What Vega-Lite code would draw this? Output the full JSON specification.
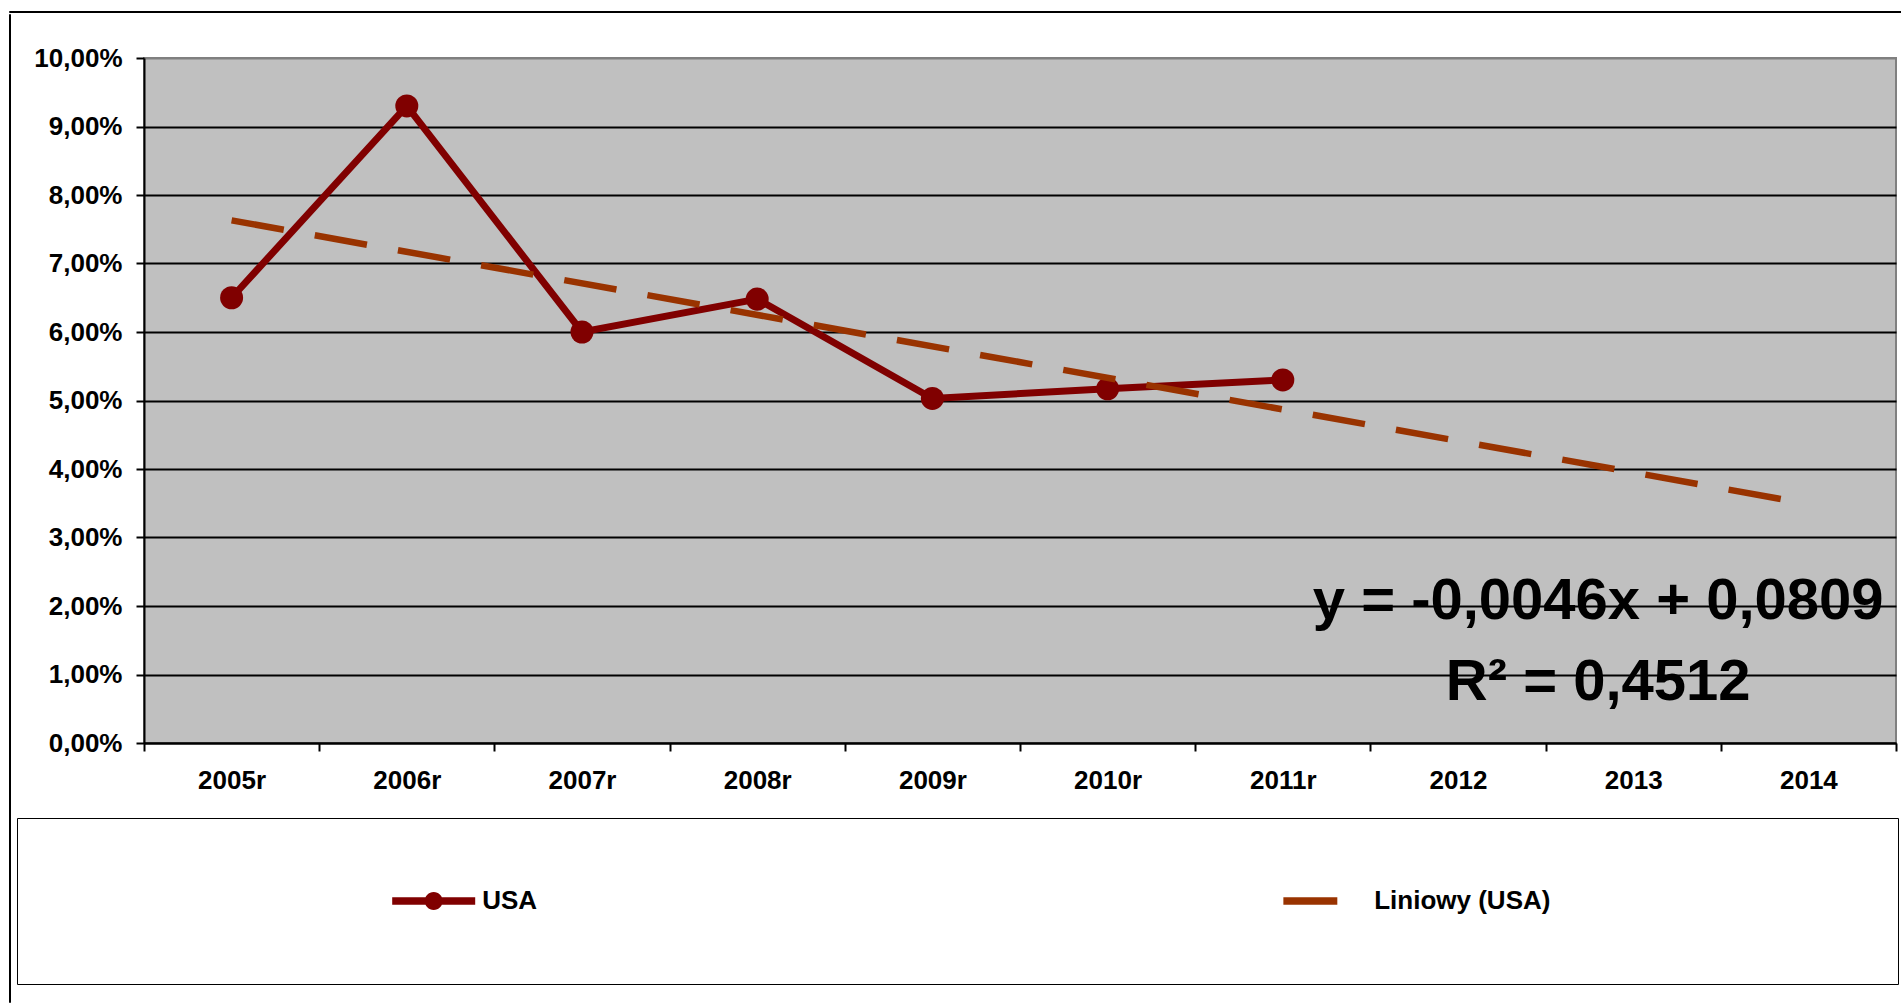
{
  "$schema": "https://vega.github.io/schema/vega-lite/v6.json",
  "background": "white",
  "padding": {"left": 8, "top": 10, "right": 0, "bottom": 0},
  "config": {
    "locale": {"number": {"decimal": ",", "thousands": " ", "grouping": [3], "currency": ["", ""]}},
    "font": "Liberation Sans",
    "axis": {
      "domainColor": "black", "domainWidth": 2,
      "tickColor": "black", "tickWidth": 2, "tickSize": 8,
      "labelFont": "Liberation Sans", "labelFontWeight": "bold", "labelFontSize": 26, "labelColor": "black"
    },
    "legend": {"labelFont": "Liberation Sans"}
  },
  "spacing": 0,
  "resolve": {"scale": {"color": "independent", "shape": "independent"}, "legend": {"color": "independent", "shape": "independent"}},
  "vconcat": [
    {
      "width": 1892, "height": 1,
      "view": {"stroke": "black", "strokeWidth": 1, "fill": null},
      "data": {"values": []},
      "mark": "point",
      "encoding": {}
    },
    {
      "spacing": 5,
      "resolve": {"scale": {"color": "independent", "shape": "independent"}, "legend": {"color": "independent", "shape": "independent"}},
      "hconcat": [
        {
          "width": 1, "height": 988,
          "view": {"stroke": "black", "strokeWidth": 1, "fill": null},
          "data": {"values": []},
          "mark": "point",
          "encoding": {}
        },
        {
          "spacing": 22,
          "resolve": {"scale": {"color": "independent", "shape": "independent"}, "legend": {"color": "independent", "shape": "independent"}},
          "vconcat": [
            {
              "width": 1, "height": 1,
              "view": {"stroke": null, "fill": null},
              "data": {"values": []},
              "mark": "point",
              "encoding": {}
            },
            {
              "width": 1752, "height": 685,
              "view": {"fill": "#C0C0C0", "stroke": "#808080", "strokeWidth": 2},
              "data": {"values": [
                {"year": "2005r", "series": "USA", "value": 0.065},
                {"year": "2006r", "series": "USA", "value": 0.093},
                {"year": "2007r", "series": "USA", "value": 0.060},
                {"year": "2008r", "series": "USA", "value": 0.0648},
                {"year": "2009r", "series": "USA", "value": 0.0503},
                {"year": "2010r", "series": "USA", "value": 0.0517},
                {"year": "2011r", "series": "USA", "value": 0.0530},
                {"year": "2005r", "series": "Liniowy (USA)", "value": 0.0763},
                {"year": "2014", "series": "Liniowy (USA)", "value": 0.0349}
              ]},
              "encoding": {
                "x": {
                  "field": "year", "type": "ordinal", "bandPosition": 0.5,
                  "scale": {"type": "band", "paddingInner": 0, "paddingOuter": 0,
                    "domain": ["2005r", "2006r", "2007r", "2008r", "2009r", "2010r", "2011r", "2012", "2013", "2014"]},
                  "axis": {"title": null, "labelAngle": 0, "tickBand": "extent", "labelPadding": 16.5, "grid": false}
                },
                "y": {
                  "field": "value", "type": "quantitative",
                  "scale": {"domain": [0, 0.1], "nice": false, "zero": true},
                  "axis": {
                    "title": ".", "titleColor": "transparent", "titleFontSize": 10, "titleAngle": 0,
                    "titleAlign": "left", "titleBaseline": "top", "titleX": -127, "titleY": -19.5,
                    "values": [0, 0.01, 0.02, 0.03, 0.04, 0.05, 0.06, 0.07, 0.08, 0.09, 0.1],
                    "format": ".2%", "labelPadding": 14,
                    "grid": true, "gridWidth": 2,
                    "gridColor": {"condition": {"test": "datum.value >= 0.099", "value": "#808080"}, "value": "black"}
                  }
                }
              },
              "layer": [
                {
                  "transform": [{"filter": "datum.series === 'USA'"}],
                  "mark": {"type": "line", "color": "#800000", "strokeWidth": 7}
                },
                {
                  "transform": [{"filter": "datum.series === 'USA'"}],
                  "mark": {"type": "point", "filled": true, "color": "#800000", "size": 530, "opacity": 1}
                },
                {
                  "transform": [{"filter": "datum.series === 'Liniowy (USA)'"}],
                  "mark": {"type": "line", "color": "#993300", "strokeWidth": 6.5, "strokeDash": [53, 31.5]}
                },
                {
                  "data": {"values": [
                    {"year": "2013", "value": 0.0181, "label": "y = -0,0046x + 0,0809"},
                    {"year": "2013", "value": 0.0063, "label": "R² = 0,4512"}
                  ]},
                  "mark": {"type": "text", "font": "Liberation Sans", "fontWeight": "bold", "fontSize": 58,
                    "color": "black", "align": "center", "baseline": "alphabetic", "dx": -35},
                  "encoding": {"text": {"field": "label"}}
                }
              ]
            },
            {
              "width": 1, "height": 1,
              "view": {"stroke": null, "fill": null},
              "data": {"values": []},
              "mark": {"type": "point", "filled": true, "opacity": 1},
              "encoding": {
                "color": {
                  "field": "series", "type": "nominal",
                  "scale": {"domain": ["USA", "Liniowy (USA)"], "range": ["#800000", "#993300"]},
                  "legend": {
                    "title": ".", "titleOrient": "left", "titleColor": "transparent", "titleFontSize": 10, "titleFontWeight": "normal", "titlePadding": 330.7,
                    "orient": "none", "legendX": -127, "legendY": 0,
                    "strokeColor": "black", "fillColor": "white", "padding": 41.5,
                    "direction": "horizontal", "columns": 2, "columnPadding": 746,
                    "symbolSize": 6889, "symbolStrokeWidth": 0, "labelOffset": 7,
                    "labelFontSize": 26, "labelFontWeight": "bold", "labelColor": "black", "labelLimit": 1000,
                    "labelExpr": "datum.label === 'USA' ? datum.label : datum.label + '\u00a0\u00a0\u00a0\u00a0\u00a0\u00a0\u00a0\u00a0\u00a0\u00a0\u00a0\u00a0\u00a0\u00a0\u00a0\u00a0\u00a0\u00a0\u00a0\u00a0\u00a0\u00a0\u00a0\u00a0\u00a0\u00a0\u00a0\u00a0\u00a0\u00a0\u00a0\u00a0\u00a0\u00a0\u00a0\u00a0\u00a0\u00a0\u00a0\u00a0\u00a0\u00a0\u200a\u200b'",
                    "symbolOpacity": 1
                  }
                },
                "shape": {
                  "field": "series", "type": "nominal",
                  "scale": {"domain": ["USA", "Liniowy (USA)"], "range": [
                    "M0,-1M0,1M-1,-0.088H1V0.088H-1Z M-0.217,0 A0.217,0.217 0 1,1 0.217,0 A0.217,0.217 0 1,1 -0.217,0 Z",
                    "M0,-1M0,1M-1.02,-0.088H0.28V0.088H-1.02Z"
                  ]},
                  "legend": {
                    "title": ".", "titleOrient": "left", "titleColor": "transparent", "titleFontSize": 10, "titleFontWeight": "normal", "titlePadding": 330.7,
                    "orient": "none", "legendX": -127, "legendY": 0,
                    "strokeColor": "black", "fillColor": "white", "padding": 41.5,
                    "direction": "horizontal", "columns": 2, "columnPadding": 746,
                    "symbolSize": 6889, "symbolStrokeWidth": 0, "labelOffset": 7,
                    "labelFontSize": 26, "labelFontWeight": "bold", "labelColor": "black", "labelLimit": 1000,
                    "labelExpr": "datum.label === 'USA' ? datum.label : datum.label + '\u00a0\u00a0\u00a0\u00a0\u00a0\u00a0\u00a0\u00a0\u00a0\u00a0\u00a0\u00a0\u00a0\u00a0\u00a0\u00a0\u00a0\u00a0\u00a0\u00a0\u00a0\u00a0\u00a0\u00a0\u00a0\u00a0\u00a0\u00a0\u00a0\u00a0\u00a0\u00a0\u00a0\u00a0\u00a0\u00a0\u00a0\u00a0\u00a0\u00a0\u00a0\u00a0\u200a\u200b'",
                    "symbolOpacity": 1
                  }
                }
              }
            }
          ]
        }
      ]
    }
  ]
}
